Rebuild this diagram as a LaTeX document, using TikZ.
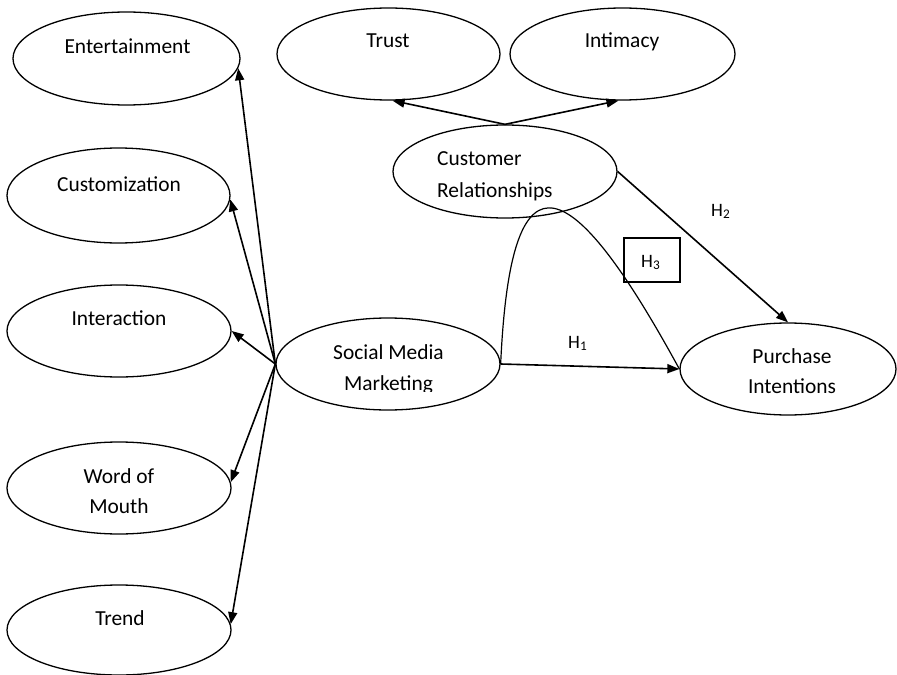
\documentclass[tikz,border=0pt]{standalone}
\usepackage{fontspec}
\setmainfont{Carlito}
\usetikzlibrary{shapes.geometric,arrows.meta}
\tikzset{
  construct/.style={draw, ellipse, line width=1.3bp, inner sep=0pt},
  lbl/.style={anchor=base, inner sep=0pt, font=\fontsize{21.5}{30}\selectfont},
  hyp/.style={anchor=base west, inner sep=0pt, font=\fontsize{19}{22}\selectfont},
  link/.style={line width=1.6bp, -{Triangle[length=12bp,width=9bp]}},
}
\begin{document}
\begin{tikzpicture}[x=1bp,y=-1bp]
\useasboundingbox (0,0) rectangle (897,675);

% dimensions of social media marketing
\node[construct, minimum width=227bp, minimum height=93bp] (ent) at (126.5,58.5) {};
\node[construct, minimum width=223bp, minimum height=95bp] (cus) at (118.5,195.5) {};
\node[construct, minimum width=224bp, minimum height=92bp] (ita) at (119,331) {};
\node[construct, minimum width=224bp, minimum height=92bp] (wom) at (119,488) {};
\node[construct, minimum width=224bp, minimum height=90bp] (tre) at (119,630) {};

% customer relationship dimensions
\node[construct, minimum width=223bp, minimum height=92bp] (tru) at (388.5,54) {};
\node[construct, minimum width=225bp, minimum height=92bp] (inti) at (622.5,54) {};

% main constructs
\node[construct, minimum width=224bp, minimum height=93bp] (cr) at (505,171.5) {};
\node[construct, minimum width=224bp, minimum height=92bp] (smm) at (388,364) {};
\node[construct, minimum width=216bp, minimum height=92bp] (pi) at (788,369) {};

% labels
\node[lbl] (entT) at (127.5,54) {Entertainment};
\node[lbl] (cusT) at (119,191) {Customization};
\node[lbl] (itaT) at (119,325) {Interaction};
\node[lbl] (womT1) at (119,483) {Word of};
\node[lbl] (womT2) at (119,513) {Mouth};
\node[lbl] (treT) at (120,625) {Trend};
\node[lbl] (truT) at (388,48) {Trust};
\node[lbl] (intT) at (622,48) {Intimacy};
\node[lbl, anchor=base west] (crT1) at (437,166) {Customer};
\node[lbl, anchor=base west] (crT2) at (437,197) {Relationships};
\node[lbl] (smmT1) at (388.5,359) {Social Media};
\begin{scope}
  \clip (320,365) rectangle (460,391);
  \node[lbl] (smmT2) at (388.5,390) {Marketing};
\end{scope}
\node[lbl] (piT1) at (792,363) {Purchase};
\node[lbl] (piT2) at (792,393) {Intentions};

% fan of dimension arrows
\draw[link] (smm.west) -- (ent.-5);
\draw[link] (smm.west) -- (cus.-2);
\draw[link] (smm.west) -- (ita.east);
\draw[link] (smm.west) -- (wom.3);
\draw[link] (smm.west) -- (tre.3);

% customer relationship dimensions
\draw[link] (cr.north) -- (tru.-85);
\draw[link] (cr.north) -- (inti.-95);

% hypotheses
\draw[link] (cr.east) -- (pi.north);
\draw[link] (smm.east) -- (pi.west);
\draw[line width=1.2bp] (smm.east) .. controls (510,160) and (560,150) .. (pi.west);

\node[hyp] (h1) at (568,348) {H\textsubscript{1}};
\node[hyp] (h2) at (711,216) {H\textsubscript{2}};
\node[draw, line width=1.2bp, minimum width=56bp, minimum height=44bp, inner sep=0pt] (h3box) at (652,260) {};
\node[hyp] (h3) at (641,267) {H\textsubscript{3}};
\end{tikzpicture}
\end{document}
